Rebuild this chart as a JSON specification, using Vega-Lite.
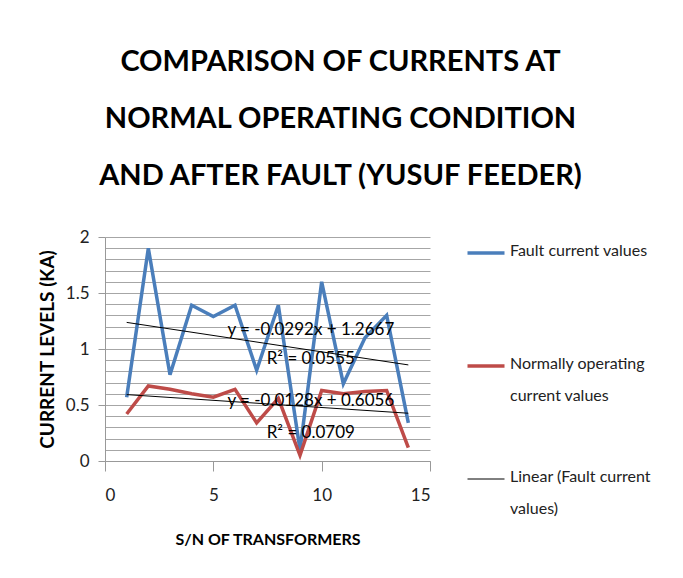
{
  "$schema": "https://vega.github.io/schema/vega-lite/v6.json",
  "width": 325,
  "height": 224,
  "autosize": {"type": "none"},
  "padding": {"left": 105, "top": 237, "right": 253, "bottom": 117},
  "background": "white",
  "config": {"view": {"stroke": null}, "font": "Lato"},
  "title": {
    "text": ["COMPARISON OF CURRENTS AT", "NORMAL OPERATING CONDITION", "AND AFTER FAULT (YUSUF FEEDER)"],
    "font": "Lato",
    "fontSize": 29,
    "fontWeight": "bold",
    "lineHeight": 57,
    "anchor": "middle",
    "frame": "group",
    "dx": 73,
    "offset": 37,
    "color": "black"
  },
  "datasets": {
    "series": [
      {"x": 1, "y": 0.57, "s": "Fault current values"},
      {"x": 2, "y": 1.90, "s": "Fault current values"},
      {"x": 3, "y": 0.77, "s": "Fault current values"},
      {"x": 4, "y": 1.39, "s": "Fault current values"},
      {"x": 5, "y": 1.29, "s": "Fault current values"},
      {"x": 6, "y": 1.39, "s": "Fault current values"},
      {"x": 7, "y": 0.81, "s": "Fault current values"},
      {"x": 8, "y": 1.39, "s": "Fault current values"},
      {"x": 9, "y": 0.10, "s": "Fault current values"},
      {"x": 10, "y": 1.60, "s": "Fault current values"},
      {"x": 11, "y": 0.69, "s": "Fault current values"},
      {"x": 12, "y": 1.10, "s": "Fault current values"},
      {"x": 13, "y": 1.30, "s": "Fault current values"},
      {"x": 14, "y": 0.34, "s": "Fault current values"},
      {"x": 1, "y": 0.42, "s": "Normally operating current values"},
      {"x": 2, "y": 0.67, "s": "Normally operating current values"},
      {"x": 3, "y": 0.64, "s": "Normally operating current values"},
      {"x": 4, "y": 0.60, "s": "Normally operating current values"},
      {"x": 5, "y": 0.57, "s": "Normally operating current values"},
      {"x": 6, "y": 0.64, "s": "Normally operating current values"},
      {"x": 7, "y": 0.34, "s": "Normally operating current values"},
      {"x": 8, "y": 0.56, "s": "Normally operating current values"},
      {"x": 9, "y": 0.05, "s": "Normally operating current values"},
      {"x": 10, "y": 0.63, "s": "Normally operating current values"},
      {"x": 11, "y": 0.60, "s": "Normally operating current values"},
      {"x": 12, "y": 0.62, "s": "Normally operating current values"},
      {"x": 13, "y": 0.63, "s": "Normally operating current values"},
      {"x": 14, "y": 0.12, "s": "Normally operating current values"}
    ],
    "trends": [
      {"x": 1, "y": 1.2375, "s": "Linear (Fault current values)"},
      {"x": 14, "y": 0.8579, "s": "Linear (Fault current values)"},
      {"x": 1, "y": 0.5928, "s": "Linear (Normally operating current values)"},
      {"x": 14, "y": 0.4264, "s": "Linear (Normally operating current values)"}
    ],
    "labels": [
      {"x": 9.5, "y": 1.17, "t": "y = -0.0292x + 1.2667"},
      {"x": 9.5, "y": 0.91, "t": "R² = 0.0555"},
      {"x": 9.5, "y": 0.54, "t": "y = -0.0128x + 0.6056"},
      {"x": 9.5, "y": 0.25, "t": "R² = 0.0709"}
    ]
  },
  "encoding": {
    "x": {
      "field": "x", "type": "quantitative",
      "scale": {"domain": [0, 15], "nice": false},
      "axis": {
        "values": [0, 5, 10, 15],
        "title": "S/N OF TRANSFORMERS",
        "titleFont": "Lato", "titleFontSize": 16, "titleFontWeight": "bold", "titleColor": "black",
        "titlePadding": 28,
        "labelFont": "Lato", "labelFontSize": 17, "labelColor": "#222",
        "grid": false, "tickSize": 10, "tickColor": "#999", "domainColor": "#999",
        "labelPadding": 16
      }
    },
    "y": {
      "field": "y", "type": "quantitative",
      "scale": {"domain": [0, 2], "nice": false},
      "axis": {
        "values": [0, 0.1, 0.2, 0.3, 0.4, 0.5, 0.6, 0.7, 0.8, 0.9, 1, 1.1, 1.2, 1.3, 1.4, 1.5, 1.6, 1.7, 1.8, 1.9, 2],
        "tickCount": 25,
        "labelExpr": "abs(datum.value*2 - round(datum.value*2)) < 0.001 ? format(datum.value, '~g') : ''",
        "tickOpacity": {"condition": {"test": "abs(datum.value*2 - round(datum.value*2)) < 0.001", "value": 1}, "value": 0},
        "labelOverlap": false,
        "title": "CURRENT LEVELS (KA)",
        "titleFont": "Lato", "titleFontSize": 19, "titleFontWeight": "bold", "titleColor": "black",
        "titleX": -48,
        "labelFont": "Lato", "labelFontSize": 17, "labelColor": "#222",
        "grid": true, "gridColor": "#a6a6a6", "gridWidth": 1,
        "tickSize": 7, "tickColor": "#999", "domainColor": "#999",
        "labelPadding": 9
      }
    }
  },
  "layer": [
    {
      "data": {"name": "series"},
      "mark": {"type": "line", "strokeWidth": 3.5, "strokeJoin": "miter"},
      "encoding": {
        "color": {
          "field": "s", "type": "nominal",
          "scale": {
            "domain": ["Fault current values", "Normally operating current values", "Linear (Fault current values)", "Linear (Normally operating current values)"],
            "range": ["#4A7EBB", "#BE4B48", "black", "black"]
          },
          "legend": {
            "values": ["Fault current values", "Normally operating current values", "Linear (Fault current values)"],
            "title": null,
            "orient": "none", "legendX": 373, "legendY": 8,
            "padding": 0,
            "symbolType": "stroke", "symbolSize": 1369,
            "labelFont": "Lato", "labelFontSize": 16, "labelColor": "#222", "labelLimit": 300, "labelOffset": 16,
            "rowPadding": 65,
            "labelExpr": "datum.label == 'Normally operating current values' ? ['Normally operating', 'current values'] : datum.label == 'Linear (Fault current values)' ? ['Linear (Fault current', 'values)'] : [datum.label, '']",
            "labelBaseline": "top",
            "encode": {
              "labels": {"update": {"dy": {"value": -10}, "lineHeight": {"value": 32}}},
              "symbols": {"update": {"strokeWidth": {"signal": "datum.value == 'Linear (Fault current values)' ? 1 : 3.5"}}}
            }
          }
        }
      }
    },
    {
      "data": {"name": "trends"},
      "mark": {"type": "line", "strokeWidth": 1},
      "encoding": {
        "color": {"field": "s", "type": "nominal"}
      }
    },
    {
      "data": {"name": "labels"},
      "mark": {"type": "text", "font": "Lato", "fontSize": 17, "color": "black", "baseline": "middle", "align": "center"},
      "encoding": {
        "text": {"field": "t"}
      }
    }
  ]
}
